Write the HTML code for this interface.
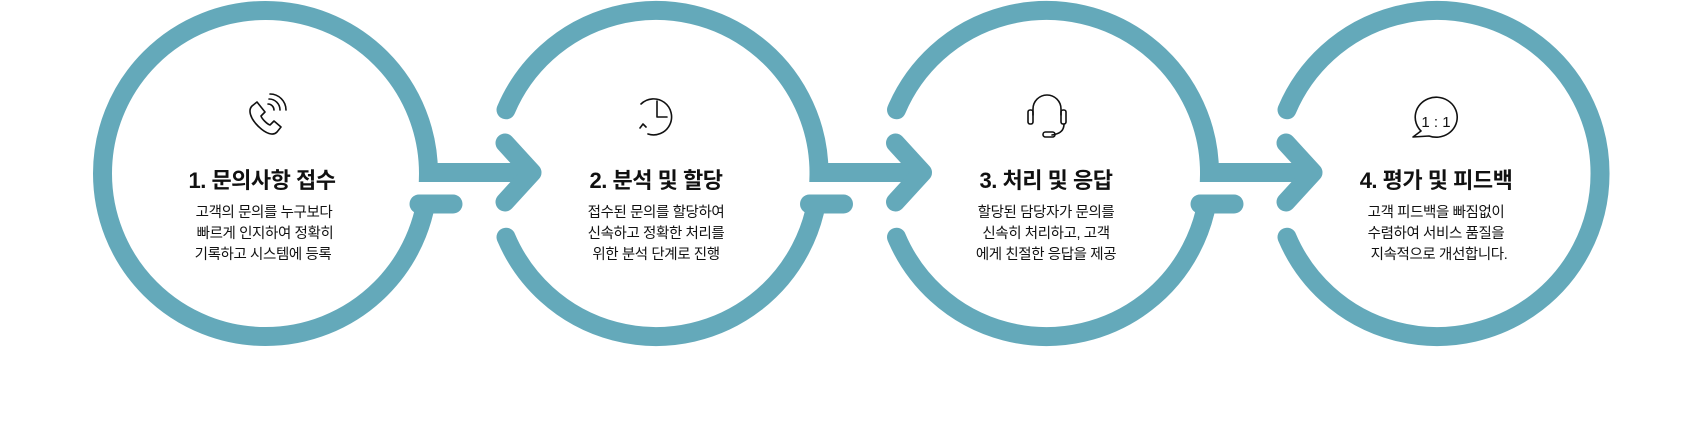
<!DOCTYPE html>
<html><head><meta charset="utf-8"><style>
html,body{margin:0;padding:0;background:#fff;}
svg{display:block;}
text{font-family:"Liberation Sans","Noto Sans CJK KR",sans-serif;fill:#111;}
.t{font-size:22px;font-weight:bold;letter-spacing:-0.5px;}
.b{font-size:14.5px;letter-spacing:-0.4px;}
</style></head><body>
<svg width="1700" height="429" viewBox="0 0 1700 429" xmlns="http://www.w3.org/2000/svg">
<g fill="none" stroke="#64a9ba" stroke-width="19">
  <!-- circle 1 -->
  <circle cx="265.5" cy="173.5" r="163"/>
  <!-- circles 2-4 with left gap -->
  <path d="M506,109.8 A163,163 0 1 1 506,237.2" stroke-linecap="round"/>
  <path d="M896.5,109.8 A163,163 0 1 1 896.5,237.2" stroke-linecap="round"/>
  <path d="M1287,109.8 A163,163 0 1 1 1287,237.2" stroke-linecap="round"/>
</g>
<!-- cuts -->
<g fill="#fff">
  <rect x="405" y="182" width="50" height="13"/>
  <rect x="796" y="182" width="50" height="13"/>
  <rect x="1186" y="182" width="50" height="13"/>
</g>
<g fill="none" stroke="#64a9ba" stroke-width="19">
  <!-- arrow 1 -->
  <line x1="419" y1="172.5" x2="530" y2="172.5"/>
  <line x1="419" y1="204" x2="453" y2="204" stroke-linecap="round"/>
  <polyline points="505,143 532,172.5 505,202" stroke-linecap="round" stroke-linejoin="round"/>
  <!-- arrow 2 -->
  <line x1="809.5" y1="172.5" x2="920.5" y2="172.5"/>
  <line x1="809.5" y1="204" x2="843.5" y2="204" stroke-linecap="round"/>
  <polyline points="895.5,143 922.5,172.5 895.5,202" stroke-linecap="round" stroke-linejoin="round"/>
  <!-- arrow 3 -->
  <line x1="1200" y1="172.5" x2="1311" y2="172.5"/>
  <line x1="1200" y1="204" x2="1234" y2="204" stroke-linecap="round"/>
  <polyline points="1286,143 1313,172.5 1286,202" stroke-linecap="round" stroke-linejoin="round"/>
</g>

<!-- icons -->
<g fill="none" stroke="#111" stroke-width="1.6" stroke-linecap="round" stroke-linejoin="round">
  <!-- phone -->
  <path d="M257,102 l-5,4 c-4,4 -2,12 6,20 c8,8 15,10 19,6 l4,-5 l-7,-6 l-4,4 c-3,-1 -8,-6 -9,-9 l4,-4 z"/>
  <path d="M268,104 a6,6 0 0 1 6,6"/>
  <path d="M269,99 a11,11 0 0 1 11,11"/>
  <path d="M270,94 a16,16 0 0 1 16,16"/>
  <!-- clock -->
  <path d="M641,104 A18,18 0 1 1 648,134" transform="translate(0,0)"/>
  <path d="M657,101 v16 h10"/>
  <path d="M640,128 l3,-4 l3,3"/>
  <!-- headset -->
  <path d="M1033,115 v-6 a14,14 0 0 1 28,0 v6"/>
  <rect x="1028" y="110" width="5" height="14" rx="2"/>
  <rect x="1061" y="110" width="5" height="14" rx="2"/>
  <path d="M1064,124 c0,8 -6,10 -12,11"/>
  <rect x="1043" y="132" width="12" height="5" rx="2.5"/>
  <!-- speech bubble -->
  <path d="M1413,137 l8,-6 a21,20 0 1 1 8,5 z"/>
</g>
<text x="1436" y="127" text-anchor="middle" style="font-size:15px;">1 : 1</text>

<!-- texts -->
<text class="t" x="262" y="188" text-anchor="middle">1.  문의사항 접수</text>
<text class="b" x="264" y="217" text-anchor="middle">고객의 문의를  누구보다</text>
<text class="b" x="265" y="238" text-anchor="middle">빠르게 인지하여 정확히</text>
<text class="b" x="263" y="259" text-anchor="middle">기록하고 시스템에 등록</text>

<text class="t" x="656" y="188" text-anchor="middle">2. 분석 및 할당</text>
<text class="b" x="656" y="217" text-anchor="middle">접수된 문의를 할당하여</text>
<text class="b" x="656" y="238" text-anchor="middle">신속하고 정확한 처리를</text>
<text class="b" x="656" y="259" text-anchor="middle">위한 분석 단계로 진행</text>

<text class="t" x="1046" y="188" text-anchor="middle">3. 처리 및 응답</text>
<text class="b" x="1046" y="217" text-anchor="middle">할당된 담당자가 문의를</text>
<text class="b" x="1046" y="238" text-anchor="middle">신속히 처리하고, 고객</text>
<text class="b" x="1046" y="259" text-anchor="middle">에게 친절한 응답을 제공</text>

<text class="t" x="1436" y="188" text-anchor="middle">4. 평가 및 피드백</text>
<text class="b" x="1436" y="217" text-anchor="middle">고객 피드백을 빠짐없이</text>
<text class="b" x="1436" y="238" text-anchor="middle">수렴하여 서비스 품질을</text>
<text class="b" x="1439" y="259" text-anchor="middle">지속적으로 개선합니다.</text>
</svg>
</body></html>
